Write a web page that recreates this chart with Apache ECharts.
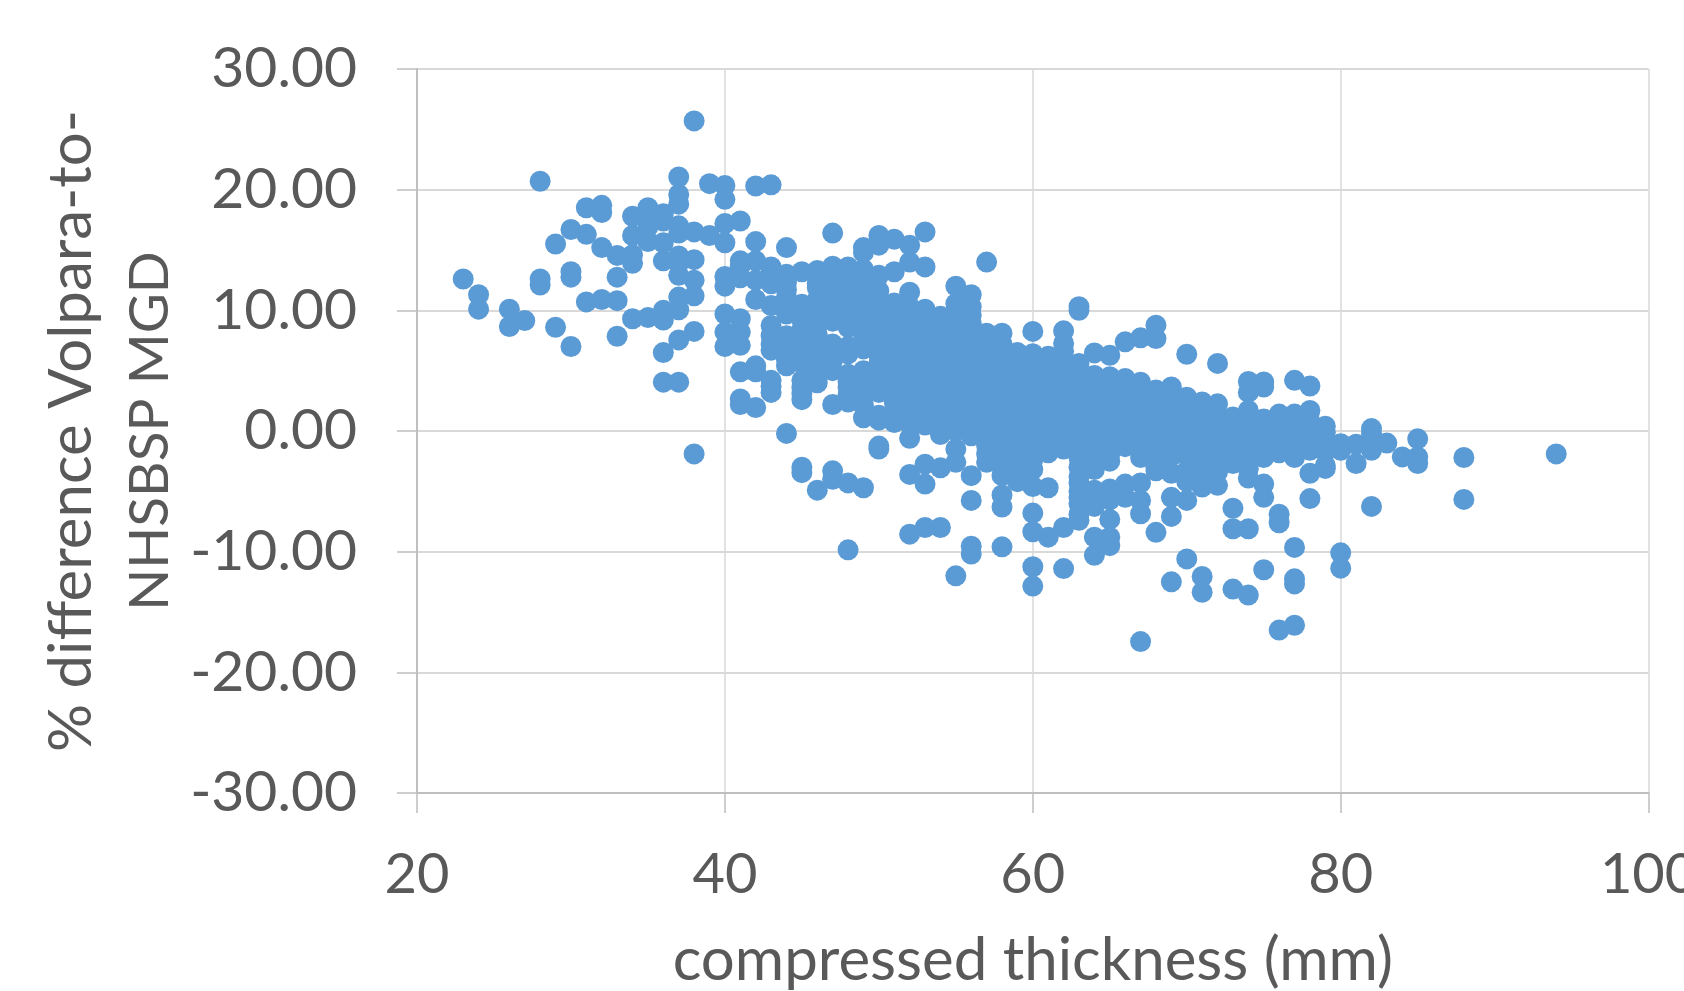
<!DOCTYPE html>
<html>
<head>
<meta charset="utf-8">
<style>html,body{margin:0;padding:0;background:#fff}#c{width:1684px;height:991px}</style>
<script src="https://cdn.jsdelivr.net/npm/echarts@6/dist/echarts.min.js"></script>
</head>
<body>
<div id="c"></div>
<script>
const xAxisTitle = 'compressed thickness (mm)';
const yAxisTitle = '{a|% difference Volpara-to-}\n{b|NHSBSP MGD}';
const thickness = [23,24,26,27,28,29,30,31,32,33,34,35,36,37,38,39,40,41,42,43,44,45,46,47,48,49,50,51,52,53,54,55,56,57,58,59,60,61,62,63,64,65,66,67,68,69,70,71,72,73,74,75,76,77,78,79,80,81,82,83,84,85,88,94];
const differences = [
[12.6],
[11.3,10.1],
[10.1,8.66],
[9.15],
[20.7,12.6,12.1],
[15.5,8.6],
[16.7,13.2,12.75,7.0],
[18.5,16.3,10.7],
[18.7,18.1,15.2,10.9],
[14.55,12.75,10.8,7.85],
[17.8,16.2,14.6,13.9,9.3],
[18.5,17.7,16.9,15.7,9.4],
[18,17.4,15.6,14.1,10,9.2,6.5,4.05],
[21.05,19.6,18.8,17,16.4,14.5,13.9,12.9,11.1,10.05,7.55,4.05],
[25.7,16.5,14.2,12.5,11.2,8.25,-1.9],
[20.5,16.2],
[20.35,19.2,17.2,15.6,12.8,12,9.7,8.2,7],
[17.4,14.1,13.7,12.7,9.3,8.2,7.1,4.9,2.65,2.2],
[20.3,15.7,14.1,12.5,10.9,5.4,4.9,1.95],
[20.4,13.6,13.2,12.2,10.4,8.75,7.9,7.2,6.7,4.2,3.7,3.2],
[15.2,13,12.3,11.7,11.1,10.4,9.7,7.9,7.4,7,6.5,5.9,5.4,-0.2],
[13.2,10.5,9.7,9.2,8.4,7.8,7.2,6.4,5.6,4.2,3.6,3.1,2.6,-3,-3.45],
[13.3,12.2,11.9,10.9,10.3,9.5,8.8,8,7.4,6.8,6.1,5.1,4.5,4,-4.9],
[16.4,13.65,13,12.2,11.3,10.6,9.9,9.1,7.2,6.6,5.9,5,2.2,-3.3,-4],
[13.6,13,12.3,11.7,10.8,10.1,9.4,8.6,7,6.4,4.7,4.1,3.6,3,2.4,-4.3,-9.85],
[15.2,14.8,13.4,12.8,12.2,11.5,10.9,10.2,9.5,8.8,8,7.4,6.8,5,4.2,3.5,2.8,2.1,1.1,-4.7],
[16.2,15.4,12.9,11.6,10.8,9.8,9.1,8.4,7.7,7,6.3,5.6,4.9,4.2,3.2,1.3,0.9,-1.25,-1.5],
[15.9,13.2,10.6,10,9.2,8.5,7.6,6.9,6.2,5.4,4.6,3.8,3.1,2.4,1.7,1,0.7],
[15.4,14,11.5,10.3,9.6,8.9,8.2,7.5,6.8,6,5.2,4.5,3.7,3,2.2,1.4,0.6,-0.6,-3.6,-8.55],
[16.5,13.6,10.1,9.4,8.7,7.9,7.2,6.5,5.8,5,4.3,3.5,2.7,2,1.3,0.5,-2.75,-4.4,-8],
[9.5,8.8,8.1,7.3,6.6,5.9,5.1,4.4,3.6,2.9,2.1,1.4,0.7,-0.3,-3.05,-8],
[12,10.55,9.7,9,8.3,7.5,6.8,6,5.2,4.5,3.8,3,2.3,1.5,0.7,0,-1.5,-2.6,-12],
[11.3,10.3,9.6,8.9,8.1,7.3,6.6,5.8,5,4.3,3.5,2.7,2,1.2,0.5,-0.4,-3.7,-5.75,-9.55,-10.2],
[14,8.1,7.3,6.5,5.7,4.9,4.2,3.4,2.6,1.9,1.1,0.4,-0.5,-1.2,-1.9,-2.6],
[8.1,7.2,6.3,5.5,4.7,3.9,3.1,2.4,1.6,0.8,0,-0.8,-1.6,-2.3,-3,-3.7,-5.3,-6.3,-9.6],
[6.5,5.7,5,4.2,3.4,2.7,1.9,1.1,0.3,-0.5,-1.3,-2,-2.9,-3.6,-4.2],
[8.25,6.4,5.6,4.8,4,3.2,2.4,1.6,0.8,0,-0.8,-1.6,-2.4,-3.2,-4.6,-6.8,-8.35,-11.25,-12.85],
[6.2,5.3,4.5,3.8,3,2.2,1.4,0.6,-0.2,-1,-1.8,-4.7,-8.8],
[8.3,7.25,6.6,5.8,5,4.2,3.4,2.6,1.8,1,0.3,-0.5,-1.5,-8,-11.4],
[10.3,10,5.6,5,4.2,3.4,2.6,1.8,1,0.2,-0.6,-1.4,-2.2,-3,-3.8,-4.3,-5,-5.5,-6,-6.9,-7.4],
[6.47,4.6,3.8,3,2.2,1.4,0.6,-0.2,-1,-1.8,-2.6,-3.2,-4.9,-6.25,-8.8,-10.3],
[6.28,4.5,3.7,2.9,2.1,1.3,0.5,-0.3,-1.1,-1.9,-2.5,-4.8,-5.7,-7.33,-8.8,-9.5],
[7.39,4.35,3.5,2.7,1.9,1.1,0.3,-0.5,-1.3,-4.4,-5.5],
[7.72,4.05,3.3,2.5,1.7,0.9,0.1,-0.7,-1.5,-2.2,-4.3,-5.75,-6.86,-17.45],
[8.77,7.66,3.4,2.6,1.8,1,0.2,-0.6,-1.4,-2.2,-3,-3.3,-8.4],
[3.65,2.8,2,1.2,0.4,-0.5,-1.3,-2.1,-3.5,-5.5,-7.08,-12.5],
[6.36,2.8,2,1.2,0.4,-0.4,-1.2,-2,-3.3,-4.2,-5.75,-10.6],
[2.4,1.6,0.8,0,-0.8,-1.6,-2.4,-3.2,-4.1,-4.65,-12.05,-13.36],
[5.6,2.25,1.4,0.6,-0.2,-1,-1.8,-2.6,-3.4,-4.5],
[1.15,0.4,-0.4,-1.2,-2,-2.7,-6.4,-8.1,-13.1],
[4.1,3.2,1.7,0.9,0.1,-0.7,-1.5,-2.3,-3.1,-3.9,-8.1,-13.6],
[4.07,3.65,1,0.2,-0.6,-1.4,-2.2,-4.4,-5.5,-11.5],
[1.4,0.6,-0.2,-1,-1.8,-6.9,-7.6,-16.5],
[4.2,1.4,0.6,-0.2,-1,-1.8,-2.2,-9.65,-12.25,-12.67,-16.1],
[3.73,1.7,0.8,0,-0.8,-1.6,-3.5,-5.6],
[0.4,-0.1,-0.9,-1.7,-2.85,-3.1],
[-1.05,-1.6,-10.1,-11.37],
[-1.1,-2.7],
[0.2,-0.2,-1.6,-6.25],
[-1],
[-2.15],
[-0.65,-2.15,-2.7],
[-2.2,-5.67],
[-1.9]
];
const points = [];
thickness.forEach((t, i) => differences[i].forEach(d => points.push([t, d])));

const chart = echarts.init(document.getElementById('c'), null, {renderer: 'canvas'});
const FONT = 'Lato';
const TEXT = '#595959';
chart.setOption({
  animation: false,
  backgroundColor: '#ffffff',
  grid: {left: 417, right: 35.4, top: 69, bottom: 198, containLabel: false, outerBoundsMode: 'none'},
  xAxis: {
    type: 'value', min: 20, max: 100, interval: 20,
    name: xAxisTitle, nameLocation: 'middle', nameGap: 138,
    nameTextStyle: {fontFamily: FONT, fontSize: 60, color: TEXT},
    axisLine: {onZero: false, lineStyle: {color: '#BFBFBF', width: 2}},
    axisTick: {show: true, length: 20, lineStyle: {color: '#BFBFBF', width: 1.5}},
    axisLabel: {fontFamily: FONT, fontSize: 56, color: TEXT, margin: 54, hideOverlap: false},
    splitLine: {show: true, lineStyle: {color: '#D9D9D9', width: 1.5}}
  },
  yAxis: {
    type: 'value', min: -30, max: 30, interval: 10,
    name: yAxisTitle, nameLocation: 'middle', nameRotate: 90, nameGap: 228,
    nameTextStyle: {
      fontFamily: FONT, color: TEXT, align: 'center',
      rich: {
        a: {fontFamily: FONT, fontSize: 60, color: TEXT, lineHeight: 78},
        b: {fontFamily: FONT, fontSize: 55, color: TEXT, lineHeight: 78}
      }
    },
    axisLine: {onZero: false, lineStyle: {color: '#BFBFBF', width: 2}},
    axisTick: {show: true, length: 20, lineStyle: {color: '#BFBFBF', width: 1.5}},
    axisLabel: {fontFamily: FONT, fontSize: 57, color: TEXT, margin: 60, formatter: v => v.toFixed(2)},
    splitLine: {show: true, lineStyle: {color: '#D9D9D9', width: 2}}
  },
  series: [{
    type: 'scatter', data: points, symbol: 'circle', symbolSize: 21,
    itemStyle: {color: '#5B9BD5', opacity: 1}, clip: false, silent: true,
    large: false, progressive: 0
  }]
});
</script>
</body>
</html>
